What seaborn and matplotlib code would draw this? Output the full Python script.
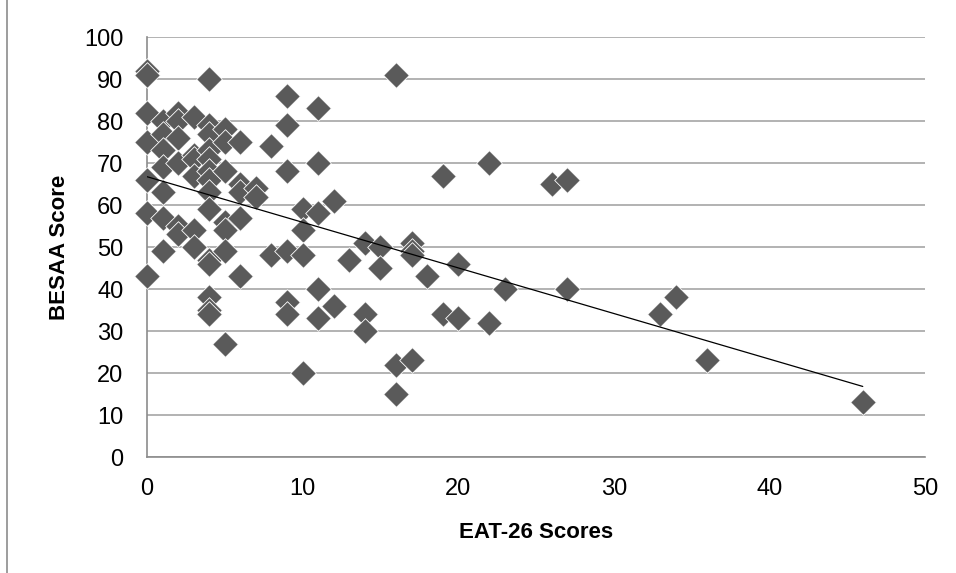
import matplotlib
matplotlib.use("Agg")
import matplotlib.pyplot as plt
import pandas as pd
import seaborn as sns
from matplotlib.lines import Line2D

# EAT-26 score and the BESAA scores observed at it
eat_groups = [0, 1, 2, 3, 4, 5, 6, 7, 8, 9, 10, 11, 12, 13, 14, 15, 16, 17,
              18, 19, 20, 22, 23, 26, 27, 33, 34, 36, 46]
besaa_groups = [
    [92, 91, 82, 75, 66, 58, 43],
    [80, 77, 73, 69, 63, 57, 49],
    [82, 80, 76, 70, 55, 53],
    [81, 72, 71, 67, 54, 50],
    [90, 79, 77, 73, 71, 68, 66, 63, 59, 47, 46, 38, 35, 34],
    [78, 75, 68, 56, 54, 49, 27],
    [75, 65, 63, 57, 43],
    [64, 62],
    [74, 48],
    [86, 79, 68, 49, 37, 34],
    [59, 54, 48, 20],
    [83, 70, 58, 40, 33],
    [61, 36],
    [47],
    [51, 34, 30],
    [50, 45],
    [91, 22, 15],
    [51, 49, 48, 23],
    [43],
    [67, 34],
    [46, 33],
    [70, 32],
    [40],
    [65],
    [66, 40],
    [34],
    [38],
    [23],
    [13],
]

eat = [x for x, ys in zip(eat_groups, besaa_groups) for _ in ys]
besaa = [y for ys in besaa_groups for y in ys]
df = pd.DataFrame({"EAT-26 Scores": eat, "BESAA Score": besaa})

sns.set_theme(style="white")
plt.rcParams["font.family"] = ["Liberation Sans", "DejaVu Sans"]
plt.rcParams["text.color"] = "black"

fig = plt.figure(figsize=(9.56, 5.73), dpi=100)
ax = fig.add_axes([147 / 956, 1 - 457 / 573, (925 - 147) / 956, (457 - 37) / 573])

sns.regplot(data=df, x="EAT-26 Scores", y="BESAA Score", ax=ax, ci=None,
            marker="D",
            scatter_kws={"s": 170, "color": "#5a5a5a", "edgecolors": "white",
                         "linewidths": 0.6, "alpha": 1, "zorder": 3,
                         "clip_on": False},
            line_kws={"color": "black", "linewidth": 0.9, "zorder": 4})

ax.set_xlim(0, 50)
ax.set_ylim(0, 100)
ax.set_xticks(range(0, 51, 10))
ax.set_yticks(range(0, 101, 10))
ax.yaxis.grid(True, color="#a6a6a6", linewidth=1.2)
ax.set_axisbelow(True)
for side in ("top", "right"):
    ax.spines[side].set_visible(False)
for side in ("left", "bottom"):
    ax.spines[side].set_color("#8c8c8c")
    ax.spines[side].set_linewidth(1.2)
ax.tick_params(axis="both", which="major", direction="out", length=6, width=1,
               color="#8c8c8c", labelsize=17, labelcolor="black")
ax.tick_params(axis="x", pad=9)
ax.tick_params(axis="y", pad=11)
ax.set_xlabel("EAT-26 Scores", fontsize=16, fontweight="bold", color="black",
              labelpad=16)
ax.set_ylabel("BESAA Score", fontsize=16, fontweight="bold", color="black",
              labelpad=10)

# chart frame edge visible on the left of the picture
fig.add_artist(Line2D([7 / 956, 7 / 956], [0, 1], color="#8c8c8c",
                      linewidth=1.2, transform=fig.transFigure))

fig.savefig("out.png", dpi=100)
